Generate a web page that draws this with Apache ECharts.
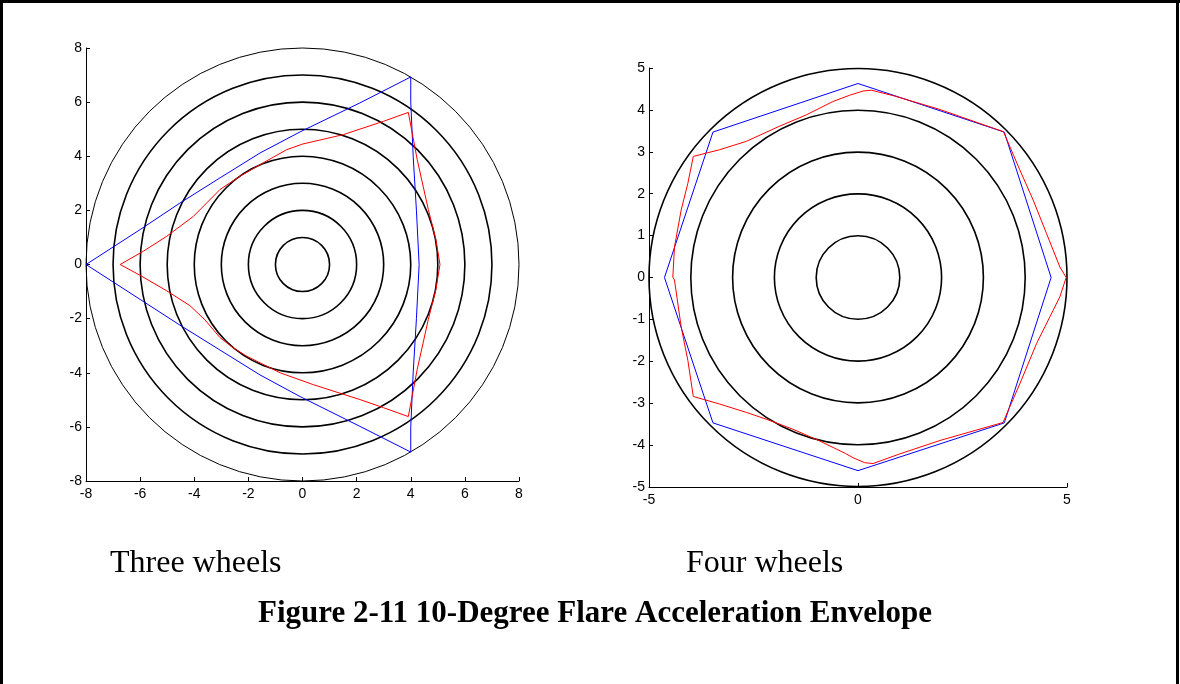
<!DOCTYPE html>
<html>
<head>
<meta charset="utf-8">
<script src="https://cdn.jsdelivr.net/npm/echarts@6/dist/echarts.min.js"></script>
<style>
  html, body { margin: 0; padding: 0; background: #fff; }
  #chart { width: 1180px; height: 684px; }
</style>
</head>
<body>
<div id="chart"></div>
<script>
// Reference rings (radius, in g units) for each envelope plot
const ringsThree = [1, 2, 3, 4, 5, 6, 7, 8];
const ringsFour = [1, 2, 3, 4, 5];

// Three-wheel envelope: blue and red traces as [x, y]
const blueThree = [
  [-8, 0], [-6.0, 1.29], [-4.53, 2.27], [-3.05, 3.2], [-1.57, 4.12], [-0.09, 4.9],
  [2.12, 5.97], [4.0, 6.93], [4.0, 6.0], [4.09, 4.0], [4.21, 2.0], [4.31, 0],
  [4.21, -2.0], [4.09, -4.0], [4.0, -6.0], [4.0, -6.93], [2.12, -5.98], [-0.09, -4.88],
  [-1.57, -4.08], [-3.05, -3.16], [-4.53, -2.24], [-6.0, -1.29], [-8, 0]
];
const redThree = [
  [-6.74, 0], [-5.88, 0.49], [-5.02, 1.04], [-4.03, 1.78], [-3.05, 2.77], [-2.31, 3.26],
  [-1.57, 3.69], [-0.59, 4.24], [0, 4.45], [1.51, 4.8], [2.99, 5.29], [3.91, 5.62],
  [4.24, 3.87], [4.65, 2.03], [4.93, 0.92], [5.08, 0], [4.93, -0.92], [4.65, -2.03],
  [4.24, -3.87], [3.91, -5.62], [2.99, -5.29], [2.12, -4.99], [0.4, -4.44], [-0.83, -4.0],
  [-2.06, -3.39], [-2.6, -3.05], [-3.05, -2.7], [-3.6, -2.05], [-4.16, -1.52], [-5.02, -0.97],
  [-6.0, -0.4], [-6.74, 0]
];

// Four-wheel envelope: blue and red traces as [x, y]
const blueFour = [
  [0, 4.63], [3.5, 3.47], [4.62, 0], [3.5, -3.47], [0, -4.61],
  [-3.47, -3.47], [-4.63, 0], [-3.47, 3.47], [0, 4.63]
];
const redFour = [
  [0.12, 4.45], [0.32, 4.47], [0.84, 4.34], [1.96, 4.01], [2.76, 3.73], [3.48, 3.48],
  [3.87, 2.57], [4.19, 1.85], [4.51, 1.05], [4.83, 0.25], [4.98, 0], [4.83, -0.46],
  [4.59, -0.94], [4.27, -1.58], [3.87, -2.54], [3.47, -3.46], [1.96, -3.89], [1.0, -4.21],
  [0.36, -4.44], [0.16, -4.42], [-0.12, -4.3], [-0.3, -4.2], [-0.92, -3.9], [-1.56, -3.62],
  [-2.2, -3.38], [-2.67, -3.22], [-3.31, -3.02], [-3.94, -2.84], [-4.07, -1.98], [-4.23, -1.18],
  [-4.39, -0.06], [-4.43, 0.01], [-4.39, 0.73], [-4.23, 1.61], [-4.07, 2.25], [-3.94, 2.89],
  [-3.31, 3.05], [-2.67, 3.25], [-1.88, 3.61], [-1.24, 3.88], [-0.6, 4.2], [-0.2, 4.35], [0.12, 4.45]
];

// Axis ranges and tick steps
const threeRange = [-8, 8], threeStep = 2;
const fourRange = [-5, 5], fourXStep = 5, fourYStep = 1;

const labelFont = { fontFamily: 'Liberation Sans, Arial, sans-serif', fontSize: 14, color: '#000' };

function valueAxis(gridIndex, range, step, isY) {
  return {
    type: 'value', gridIndex, min: range[0], max: range[1], interval: step,
    axisLine: { show: true, onZero: false, lineStyle: { color: '#000', width: 1 } },
    axisTick: { show: true, inside: true, length: 4, lineStyle: { color: '#000' } },
    axisLabel: Object.assign({ margin: isY ? 4 : 6 }, labelFont),
    splitLine: { show: false }
  };
}

function ringSeries(rings, xi, yi, thinOuter) {
  const outer = Math.max(...rings);
  return {
    type: 'custom', xAxisIndex: xi, yAxisIndex: yi, silent: true,
    data: rings.map(r => [r, 0]),
    encode: { x: 0, y: 1 },
    renderItem(params, api) {
      const r = api.value(0);
      const c = api.coord([0, 0]);
      const e = api.coord([r, 0]);
      return {
        type: 'circle',
        shape: { cx: c[0], cy: c[1], r: e[0] - c[0] },
        style: { fill: null, stroke: '#000', lineWidth: (thinOuter && r === outer) ? 1 : 1.6 }
      };
    }
  };
}

function trace(data, color, xi, yi) {
  return {
    type: 'line', xAxisIndex: xi, yAxisIndex: yi, data,
    showSymbol: false, symbol: 'none', smooth: false, silent: true,
    lineStyle: { color, width: 1 }
  };
}

const chart = echarts.init(document.getElementById('chart'), null, { renderer: 'canvas' });
chart.setOption({
  animation: false,
  backgroundColor: '#fff',
  grid: [
    { left: 86, top: 48, width: 433, height: 433 },
    { left: 649, top: 68, width: 418, height: 419 }
  ],
  xAxis: [
    valueAxis(0, threeRange, threeStep, false),
    valueAxis(1, fourRange, fourXStep, false)
  ],
  yAxis: [
    valueAxis(0, threeRange, threeStep, true),
    valueAxis(1, fourRange, fourYStep, true)
  ],
  series: [
    ringSeries(ringsThree, 0, 0, true),
    trace(blueThree, '#0000ff', 0, 0),
    trace(redThree, '#ff0000', 0, 0),
    ringSeries(ringsFour, 1, 1, false),
    trace(blueFour, '#0000ff', 1, 1),
    trace(redFour, '#ff0000', 1, 1)
  ],
  graphic: [
    { type: 'line', shape: { x1: 1.5, y1: 0, x2: 1.5, y2: 684 }, style: { stroke: '#000', lineWidth: 3 } },
    { type: 'line', shape: { x1: 0, y1: 1.5, x2: 1180, y2: 1.5 }, style: { stroke: '#000', lineWidth: 3 } },
    { type: 'line', shape: { x1: 1177.5, y1: 0, x2: 1177.5, y2: 684 }, style: { stroke: '#000', lineWidth: 3 } },
    { type: 'text', left: 110, top: 548, style: { text: 'Three wheels', font: '32px "Liberation Serif", "Times New Roman", serif', fill: '#000' } },
    { type: 'text', left: 686, top: 548, style: { text: 'Four wheels', font: '32px "Liberation Serif", "Times New Roman", serif', fill: '#000' } },
    { type: 'text', left: 258, top: 598, style: { text: 'Figure 2-11 10-Degree Flare Acceleration Envelope', font: 'bold 31px "Liberation Serif", "Times New Roman", serif', fill: '#000' } }
  ]
});
</script>
</body>
</html>
